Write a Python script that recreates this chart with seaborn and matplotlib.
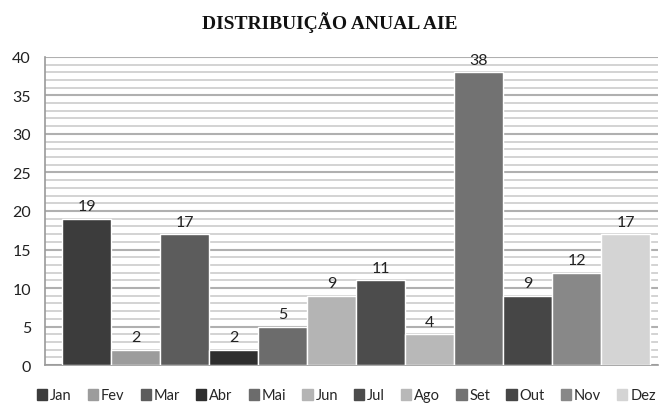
import matplotlib
matplotlib.use("Agg")
import matplotlib.pyplot as plt
import seaborn as sns
import pandas as pd
from matplotlib.ticker import MultipleLocator

meses = ["Jan", "Fev", "Mar", "Abr", "Mai", "Jun", "Jul", "Ago", "Set", "Out", "Nov", "Dez"]
casos = [19, 2, 17, 2, 5, 9, 11, 4, 38, 9, 12, 17]
cores = ["#3c3c3c", "#9c9c9c", "#5c5c5c", "#2e2e2e", "#6c6c6c", "#b4b4b4",
         "#4c4c4c", "#b8b8b8", "#727272", "#464646", "#888888", "#d4d4d4"]

df = pd.DataFrame({"Mes": meses, "Casos": casos})

sns.set_style("white")
plt.rcParams["font.family"] = ["Lato", "DejaVu Sans"]

fig = plt.figure(figsize=(6.6, 4.1), dpi=100)
ax = fig.add_axes([0.068, 0.107, 0.929, 0.752])

sns.barplot(data=df, x="Mes", y="Casos", hue="Mes", palette=cores, width=1.0,
            edgecolor="white", linewidth=1, legend=False, ax=ax, zorder=3)

for c in ax.containers:
    ax.bar_label(c, fontsize=11.5, padding=4, color="#222222")

ax.set_ylim(0, 40)
ax.set_xlim(-0.85, 11.66)
ax.yaxis.set_major_locator(MultipleLocator(5))
ax.yaxis.set_minor_locator(MultipleLocator(1))
ax.grid(axis="y", which="major", color="#b0b0b0", lw=1.5, zorder=0)
ax.grid(axis="y", which="minor", color="#cccccc", lw=1.2, zorder=0)
ax.set_axisbelow(True)
ax.set_xticks([])
ax.set_xlabel("")
ax.set_ylabel("")
ax.tick_params(axis="y", length=0, labelsize=11.5, labelcolor="#222222", pad=10)
for s in ["top", "right"]:
    ax.spines[s].set_visible(False)
for s in ["left", "bottom"]:
    ax.spines[s].set_color("#9a9a9a")
    ax.spines[s].set_linewidth(1.2)

fig.text(0.5, 0.946, "DISTRIBUIÇÃO ANUAL AIE", fontsize=14, fontweight="bold",
         family="Liberation Serif", ha="center", va="center", color="#111111")

handles = [plt.Rectangle((0, 0), 1, 1, color=c) for c in cores]
fig.legend(handles, meses, loc="center", bbox_to_anchor=(0.525, 0.033), ncol=12,
           frameon=False, fontsize=10.5, handlelength=0.7, handleheight=0.8,
           handletextpad=0.2, columnspacing=1.1)

fig.savefig("out.png", dpi=100)
